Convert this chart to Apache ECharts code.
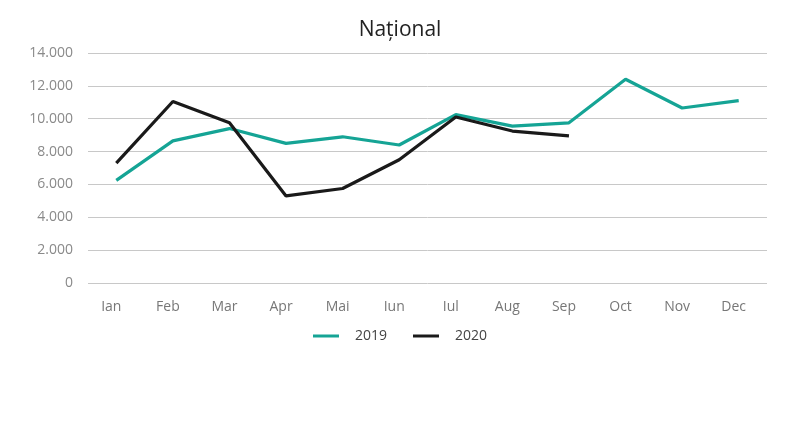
<!DOCTYPE html>
<html><head><meta charset="utf-8">
<script src="https://cdn.jsdelivr.net/npm/echarts@6/dist/echarts.min.js"></script>
<style>html,body{margin:0;padding:0;background:#fff}#c{width:800px;height:438px}</style>
</head><body><div id="c"></div>
<script>
const months = ['Ian','Feb','Mar','Apr','Mai','Iun','Iul','Aug','Sep','Oct','Nov','Dec'];
const s2019 = [6250, 8650, 9400, 8500, 8900, 8400, 10250, 9550, 9750, 12400, 10650, 11100];
const s2020 = [7300, 11050, 9750, 5300, 5750, 7500, 10100, 9250, 8950];
const yTicks = {min: 0, max: 14000, interval: 2000};

const chart = echarts.init(document.getElementById('c'));
const font = 'Open Sans';
chart.setOption({
  animation: false,
  title: {text: 'Național', left: 'center', top: 15,
    textStyle: {fontFamily: font, fontSize: 21, fontWeight: 'normal', color: '#222'}},
  legend: {bottom: 90, left: 'center', itemWidth: 26, itemHeight: 3, itemGap: 26,
    icon: 'rect',
    textStyle: {fontFamily: font, fontSize: 14, color: '#444', padding: [0,0,0,11]},
    data: ['2019','2020']},
  grid: {left: 88, right: 33, top: 53, bottom: 155},
  xAxis: {type: 'category', data: months, boundaryGap: true,
    axisLine: {show: false}, axisTick: {show: false},
    axisLabel: {fontFamily: font, fontSize: 14, color: '#777', margin: 17, padding: [0,10,0,0]}},
  yAxis: {type: 'value', min: yTicks.min, max: yTicks.max, interval: yTicks.interval,
    axisLine: {show: false}, axisTick: {show: false},
    axisLabel: {fontFamily: font, fontSize: 14, color: '#8a8a8a', margin: 15,
      formatter: v => v === 0 ? '0' : v.toLocaleString('de-DE')},
    splitLine: {lineStyle: {color: '#c8c8c8', width: 1}}},
  series: [
    {name: '2019', type: 'line', data: s2019, symbol: 'none', color: '#15a495',
      lineStyle: {width: 3.2, color: '#15a495'}},
    {name: '2020', type: 'line', data: s2020, symbol: 'none', color: '#1a1a1a',
      lineStyle: {width: 3.2, color: '#1a1a1a'}}
  ]
});
</script></body></html>
